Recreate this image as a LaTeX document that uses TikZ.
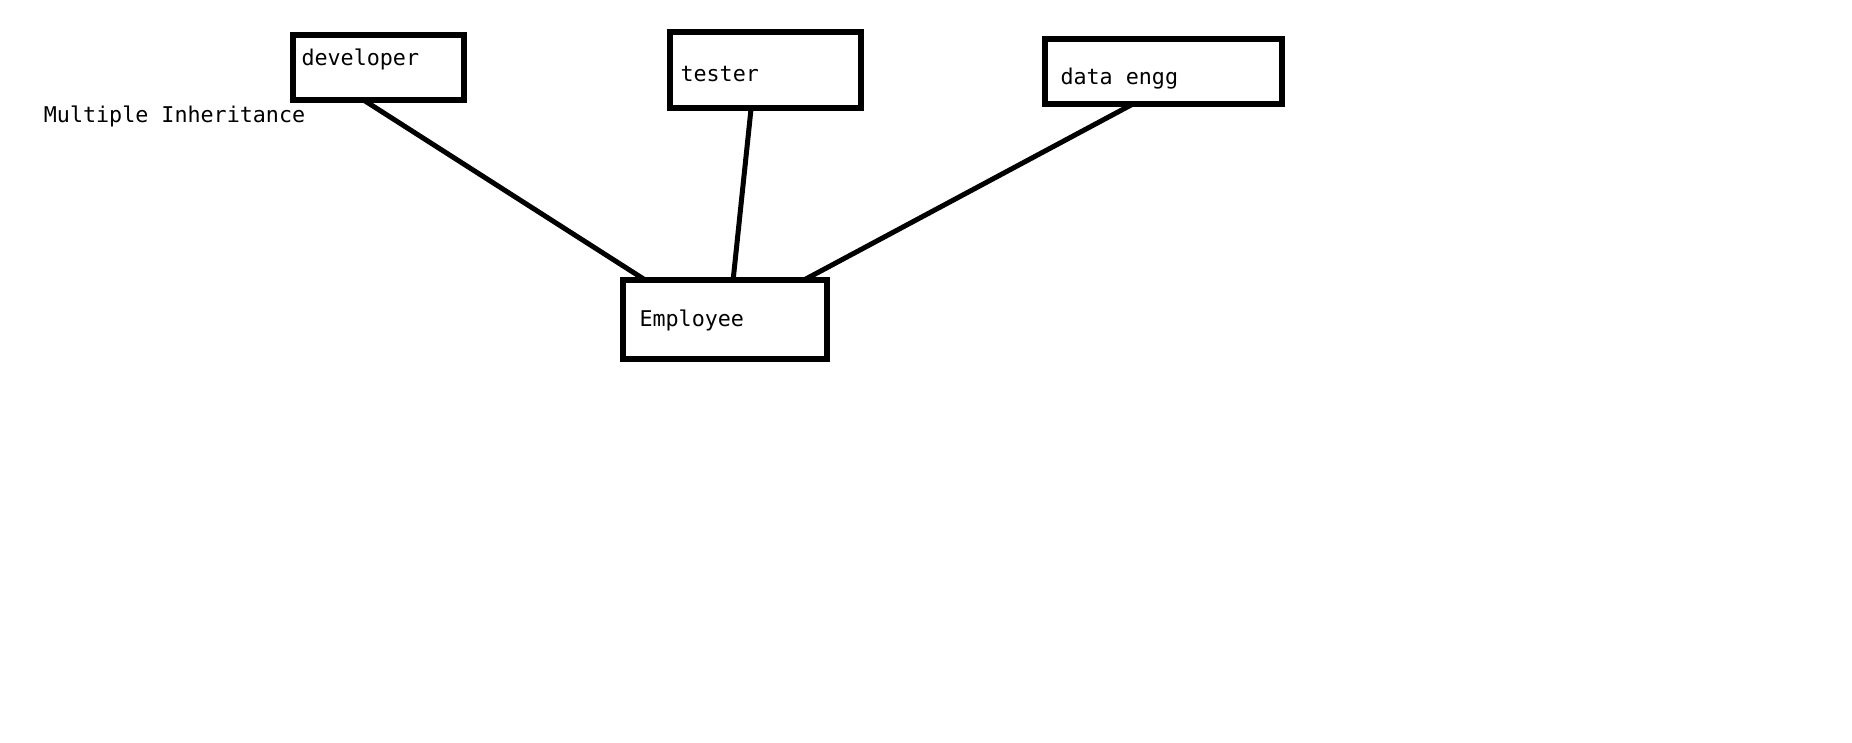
\documentclass[tikz,border=0pt]{standalone}
\usepackage{fontspec}
\setmonofont{DejaVu Sans Mono}
\usetikzlibrary{calc}
\tikzset{
  cls/.style={draw, line width=3pt, anchor=north west, outer sep=0pt,
    inner ysep=0pt, align=flush left, font=\ttfamily\fontsize{10.85pt}{12pt}\selectfont},
  link/.style={line width=2.5pt, line cap=round}
}
\begin{document}
\begin{tikzpicture}[x=0.5pt, y=-0.5pt]
    \useasboundingbox (0,0) rectangle (1852,743);

    \node[anchor=base west, inner sep=0pt, font=\ttfamily\fontsize{10.85pt}{12pt}\selectfont]
      (title) at (43.5,123) {Multiple Inheritance};

    \node[cls, inner xsep=4.5pt, text width=76.5pt, text height=15.25pt, text depth=17.25pt]
      (developer) at (292.5,35.5) {developer};
    \node[cls, inner xsep=5.5pt, text width=84.5pt, text height=24.75pt, text depth=13.25pt]
      (tester) at (669.5,32.5) {tester};
    \node[cls, inner xsep=8pt, text width=102.5pt, text height=22.75pt, text depth=9.75pt]
      (dataengg) at (1044.5,39.5) {data engg};
    \node[cls, inner xsep=8.5pt, text width=85pt, text height=23.25pt, text depth=15.75pt]
      (employee) at (622.5,280.5) {Employee};

    \draw[link] ($(developer.south west)!0.42!(developer.south east)$)
      -- ($(employee.north west)!0.115!(employee.north east)$);
    \draw[link] ($(tester.south west)!0.427!(tester.south east)$)
      -- ($(employee.north west)!0.542!(employee.north east)$);
    \draw[link] ($(dataengg.south west)!0.369!(dataengg.south east)$)
      -- ($(employee.north west)!0.885!(employee.north east)$);
  \end{tikzpicture}
\end{document}
